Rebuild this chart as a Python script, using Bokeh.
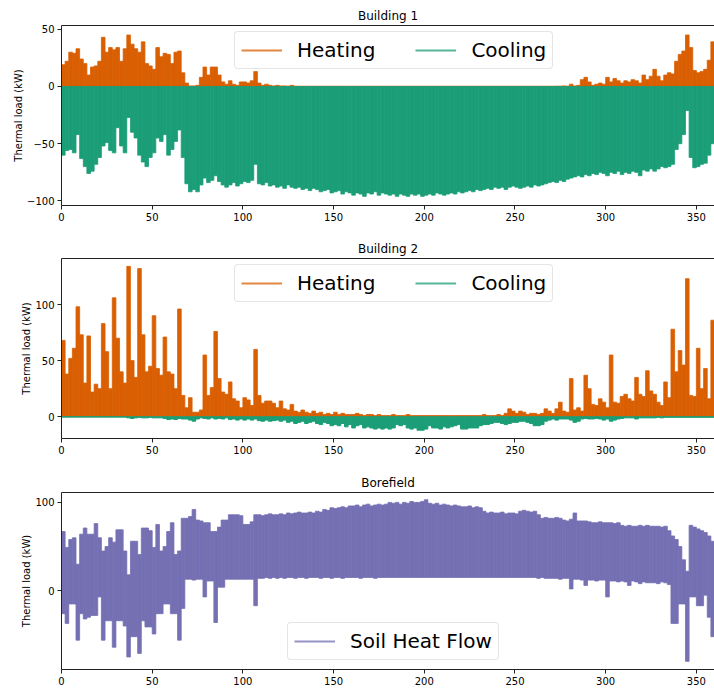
from bokeh.plotting import figure
from bokeh.models import Range1d, FixedTicker, Legend, LegendItem, LinearAxis
from bokeh.layouts import column
from bokeh.embed import file_html
from bokeh.resources import INLINE

# ---- data: 2-day envelopes (kW) ----
DAYS = list(range(0, 360, 2))

HEAT1 = [19, 22, 30, 29, 33, 24, 20, 10, 17, 18,
         22, 43, 30, 34, 32, 34, 22, 33, 45, 37,
         33, 30, 39, 20, 18, 15, 34, 26, 29, 28,
         20, 30, 31, 12, 3, 0.5, 0.5, 1, 8, 17,
         10, 17, 17, 10, 4, 2, 5, 2, 1, 4,
         4, 3, 5, 13, 3, 1, 2, 1, 0.5, 1,
         0.5, 0.5, 0.3, 1, 0.3, 0.2, 0.2, 0.2, 0.2, 0.2,
         0.2, 0.2, 0.2, 0.2, 0.2, 0.2, 0.2, 0.2, 0.2, 0.2,
         0.2, 0.2, 0.2, 0.2, 0.2, 0.2, 0.2, 0.2, 0.2, 0.2,
         0.2, 0.2, 0.2, 0.2, 0.2, 0.2, 0.2, 0.2, 0.2, 0.2,
         0.2, 0.2, 0.2, 0.2, 0.2, 0.2, 0.2, 0.2, 0.2, 0.2,
         0.2, 0.2, 0.2, 0.2, 0.2, 0.2, 0.2, 0.2, 0.2, 0.2,
         0.2, 0.2, 0.2, 0.2, 0.2, 0.2, 0.2, 0.2, 0.2, 0.2,
         0.2, 0.2, 0.2, 0.2, 0.2, 0.2, 0.3, 0.3, 0.5, 0.3,
         2, 0.5, 1, 6, 8, 4, 1, 2, 3, 2,
         8, 4, 7, 5, 3, 5, 4, 6, 5, 3,
         10, 6, 9, 15, 9, 5, 10, 12, 11, 22,
         28, 31, 45, 34, 14, 12, 13, 15, 23, 39]

COOL1 = [-60, -56, -55, -58, -42, -63, -70, -76, -74, -68,
         -62, -52, -49, -56, -58, -36, -52, -58, -27, -40,
         -45, -60, -66, -70, -62, -58, -45, -48, -42, -60,
         -55, -48, -38, -62, -85, -92, -90, -92, -86, -80,
         -84, -82, -78, -83, -86, -88, -86, -84, -87, -85,
         -83, -84, -82, -68, -85, -86, -84, -87, -86, -88,
         -87, -89, -86, -88, -89, -88, -90, -89, -91, -89,
         -90, -92, -91, -90, -93, -92, -91, -94, -92, -93,
         -95, -93, -94, -96, -93, -94, -92, -95, -93, -94,
         -95, -94, -96, -94, -95, -96, -94, -95, -94, -96,
         -95, -94, -95, -93, -94, -95, -94, -93, -94, -92,
         -93, -92, -91, -92, -90, -91, -90, -89, -90, -88,
         -89, -88, -90, -88, -87, -88, -89, -88, -87, -88,
         -86, -87, -86, -85, -84, -83, -84, -82, -83, -81,
         -80, -79, -78, -79, -77, -78, -76, -77, -75, -76,
         -78, -75, -76, -74, -77, -75, -76, -74, -75, -78,
         -73, -74, -72, -74, -72, -70, -71, -70, -68, -55,
         -50, -42, -21, -62, -71, -70, -68, -67, -60, -50]

HEAT2 = [68, 38, 52, 61, 98, 73, 30, 72, 22, 29,
         25, 83, 58, 25, 106, 70, 40, 30, 134, 50,
         35, 132, 73, 40, 45, 90, 43, 37, 71, 40,
         38, 25, 96, 19, 8, 17, 4, 4, 6, 55,
         19, 26, 76, 34, 22, 20, 31, 16, 14, 8,
         17, 15, 10, 60, 19, 12, 14, 14, 12, 8,
         14, 7, 6, 11, 5, 4, 6, 4, 3, 5,
         3, 4, 2, 3, 2, 4, 2, 3, 2, 2,
         2, 3, 2, 1, 2, 2, 1, 2, 1, 1,
         1, 2, 1, 1, 1, 2, 1, 1, 1, 1,
         1, 1, 1, 1, 1, 1, 1, 1, 1, 1,
         1, 1, 1, 1, 1, 1, 2, 1, 1, 1,
         2, 1, 3, 7, 5, 3, 5, 4, 2, 3,
         3, 2, 3, 7, 5, 3, 7, 13, 5, 4,
         34, 6, 8, 5, 37, 25, 11, 10, 16, 13,
         8, 55, 13, 12, 18, 20, 16, 14, 35, 20,
         18, 41, 23, 20, 13, 10, 31, 17, 78, 40,
         59, 46, 123, 19, 18, 61, 25, 43, 16, 86]

COOL2 = [-0.3, -0.3, -0.3, -0.3, -0.3, -0.3, -0.3, -0.3, -0.3, -0.3,
         -0.3, -0.3, -0.3, -0.3, -0.3, -0.3, -0.3, -0.3, -1, -1.5,
         -1, -0.5, -1, -1, -0.5, -1, -1, -1, -1.5, -2.5,
         -2, -2.5, -1.5, -2, -2, -3, -4, -2, -1, -1.5,
         -2, -1, -2, -1.5, -2, -1, -2.5, -2, -3, -2,
         -3, -2, -3, -2, -3.5, -4, -3, -4, -3.5, -3,
         -4, -3, -5, -4, -6, -5, -4, -6, -5, -4,
         -6, -7, -5, -6, -8, -7, -8, -6, -9, -7,
         -10, -8, -7, -10, -9, -10, -11, -10, -11, -10,
         -11, -10, -7, -8, -7, -10, -11, -10, -12, -12,
         -11, -8, -10, -10, -11, -9, -10, -9, -8, -7,
         -11, -11, -10, -10, -10, -8, -7, -7, -6, -5,
         -5, -6, -7, -6, -5, -5, -4, -4, -5, -6,
         -8, -8, -7, -4, -3, -2, -3, -2, -2, -2,
         -3, -5, -4, -2, -1.5, -2, -2, -1.5, -2, -3,
         -2, -4, -3, -2, -1.5, -1, -1, -1, -2, -1,
         -1, -1, -1, -1, -0.5, -1, -0.5, -0.5, -0.5, -0.5,
         -0.5, -0.5, -0.5, -0.5, -0.5, -0.5, -0.5, -0.5, -0.5, -0.5]

BF_MAX = [67, 49, 58, 60, 30, 64, 71, 64, 64, 76,
          60, 45, 50, 60, 55, 69, 69, 45, 18, 56,
          56, 41, 71, 71, 68, 49, 75, 45, 50, 67,
          77, 41, 45, 82, 82, 84, 92, 80, 79, 77,
          77, 67, 67, 72, 80, 80, 86, 86, 86, 85,
          75, 75, 78, 86, 86, 85, 86, 87, 86, 86,
          87, 86, 88, 87, 88, 89, 88, 88, 89, 88,
          90, 89, 92, 91, 94, 93, 94, 95, 94, 96,
          96, 97, 95, 97, 98, 96, 97, 98, 97, 98,
          100, 99, 100, 98, 100, 99, 101, 100, 100, 101,
          103, 99, 98, 99, 97, 98, 97, 96, 97, 96,
          95, 95, 96, 94, 95, 94, 90, 88, 89, 88,
          88, 89, 87, 88, 88, 87, 90, 91, 90, 89,
          90, 86, 82, 83, 82, 82, 83, 82, 80, 79,
          81, 88, 79, 79, 79, 78, 77, 77, 78, 77,
          77, 77, 76, 77, 74, 73, 74, 73, 73, 74,
          73, 74, 73, 73, 73, 72, 73, 68, 62, 58,
          50, 35, 22, 74, 72, 70, 68, 66, 62, 56]

BF_MIN = [-26, -37, -15, -15, -56, -26, -32, -30, -28, -28,
          -7, -56, -34, -34, -64, -34, -34, -40, -75, -52,
          -52, -71, -34, -41, -41, -49, -26, -26, -15, -15,
          -26, -26, -56, -20, 13, 13, 12, 13, 13, -7,
          11, 11, -36, 4, 4, 13, 13, 13, 13, 13,
          13, 13, 13, -17, 14, 14, 15, 14, 15, 14,
          15, 14, 15, 15, 14, 15, 15, 14, 15, 15,
          15, 14, 15, 15, 14, 15, 15, 14, 15, 15,
          15, 15, 14, 15, 15, 15, 14, 15, 15, 15,
          15, 15, 15, 15, 15, 15, 15, 15, 15, 15,
          15, 15, 15, 15, 15, 15, 15, 15, 15, 15,
          15, 15, 15, 15, 15, 15, 15, 15, 15, 15,
          15, 15, 15, 15, 15, 15, 15, 15, 15, 15,
          15, 14, 15, 14, 14, 14, 14, 13, 14, 14,
          2, 13, 13, 12, 6, 12, 12, 11, 12, 12,
          -7, 11, 11, 10, 11, 10, 6, 11, 10, 8,
          10, 9, 9, 9, 8, 10, 9, 7, -37, -37,
          -15, -15, -80, -7, -7, -17, -17, -5, -30, -52]

X_TICKS = [0, 50, 100, 150, 200, 250, 300, 350]
TITLES = ["Building 1", "Building 2", "Borefield"]
Y_RANGES = [(-104, 53.3), (-19.4, 141), (-89.2, 111.2)]
Y_TICKS = [[-100, -50, 0, 50], [0, 50, 100], [0, 100]]

ORANGE = "#d95f02"
GREEN = "#1b9e77"
PURPLE = "#7570b3"
FONT = "DejaVu Sans"
SPINE = "#222222"

LEFT = DAYS
RIGHT = [d + 2 for d in DAYS]
FRAME_W = 653
NAN = float("nan")


def make_fig(title, yr, yticks, frame_h, top_border, bottom_border):
    p = figure(frame_width=FRAME_W, frame_height=frame_h,
               x_range=Range1d(0, 360), y_range=Range1d(*yr),
               output_backend="svg", toolbar_location=None,
               min_border_left=61, min_border_right=0,
               min_border_top=top_border, min_border_bottom=bottom_border)
    xax = p.below[0]
    yax = p.left[0]
    p.title.text = title
    p.title.align = "center"
    p.title.text_font = FONT
    p.title.text_font_size = "12px"
    p.title.text_font_style = "normal"
    p.title.text_color = "#000000"
    p.title.standoff = 5
    p.xgrid.visible = False
    p.ygrid.visible = False
    p.outline_line_color = None
    for ax in (xax, yax):
        ax.major_tick_out = 4
        ax.major_tick_in = 0
        ax.minor_tick_out = 0
        ax.minor_tick_in = 0
        ax.major_label_standoff = 3
        ax.major_label_text_font = FONT
        ax.major_label_text_font_size = "10px"
        ax.major_label_text_color = "#000000"
        ax.axis_line_color = SPINE
        ax.major_tick_line_color = SPINE
    xax.ticker = FixedTicker(ticks=X_TICKS)
    yax.ticker = FixedTicker(ticks=yticks)
    yax.major_label_overrides = {t: ("\u2212" + str(abs(t)) if t < 0 else str(t)) for t in yticks}
    yax.axis_label = "Thermal load (kW)"
    yax.axis_label_text_font = FONT
    yax.axis_label_text_font_size = "10px"
    yax.axis_label_text_font_style = "normal"
    yax.axis_label_text_color = "#000000"
    yax.axis_label_standoff = 0
    # top spine only (the right one is cut off in the reference)
    top = LinearAxis(ticker=FixedTicker(ticks=[]), major_tick_out=0, major_tick_in=0,
                     minor_tick_out=0, minor_tick_in=0, major_label_standoff=0,
                     major_label_text_font_size="0px",
                     axis_line_color=SPINE, axis_line_width=1)
    p.add_layout(top, "above")
    return p


def style_legend(leg, loc):
    leg.location = loc
    leg.orientation = "horizontal"
    leg.label_text_font = FONT
    leg.label_text_font_size = "20px"
    leg.label_text_color = "#000000"
    leg.label_height = 20
    leg.glyph_width = 41
    leg.glyph_height = 20
    leg.label_standoff = 15
    leg.spacing = 40
    leg.padding = 6
    leg.margin = 0
    leg.border_line_color = "#cccccc"
    leg.border_line_width = 1
    leg.background_fill_alpha = 0.8
    try:
        leg.border_radius = 4
    except Exception:
        pass


def legend_line(p, color):
    return p.line(x=[NAN], y=[NAN], line_color=color, line_width=2, line_alpha=0.75)


# ---- Building 1 ----
H1 = 180
p1 = make_fig(TITLES[0], Y_RANGES[0], Y_TICKS[0], H1, 25, 22)
p1.quad(left=LEFT, right=RIGHT, bottom=0, top=HEAT1, fill_color=ORANGE, line_color=ORANGE, line_width=0.8)
p1.quad(left=LEFT, right=RIGHT, bottom=0, top=COOL1, fill_color=GREEN, line_color=GREEN, line_width=0.8)
h1 = legend_line(p1, ORANGE)
c1 = legend_line(p1, GREEN)
leg1 = Legend(items=[LegendItem(label="Heating", renderers=[h1]), LegendItem(label="Cooling", renderers=[c1])])
style_legend(leg1, (173, H1 - 44))
p1.add_layout(leg1)

# ---- Building 2 ----
H2 = 180
p2 = make_fig(TITLES[1], Y_RANGES[1], Y_TICKS[1], H2, 31, 23)
p2.quad(left=LEFT, right=RIGHT, bottom=0, top=HEAT2, fill_color=ORANGE, line_color=ORANGE, line_width=0.8)
p2.quad(left=LEFT, right=RIGHT, bottom=0, top=COOL2, fill_color=GREEN, line_color=GREEN, line_width=1)
h2 = legend_line(p2, ORANGE)
c2 = legend_line(p2, GREEN)
leg2 = Legend(items=[LegendItem(label="Heating", renderers=[h2]), LegendItem(label="Cooling", renderers=[c2])])
style_legend(leg2, (173, H2 - 44))
p2.add_layout(leg2)

# ---- Borefield ----
H3 = 177
p3 = make_fig(TITLES[2], Y_RANGES[2], Y_TICKS[2], H3, 31, 20)
p3.quad(left=LEFT, right=RIGHT, bottom=BF_MIN, top=BF_MAX, fill_color=PURPLE, line_color=PURPLE, line_width=0.8)
s3 = legend_line(p3, PURPLE)
leg3 = Legend(items=[LegendItem(label="Soil Heat Flow", renderers=[s3])])
style_legend(leg3, (226, 9))
p3.add_layout(leg3)

layout = column(p1, p2, p3, spacing=0)
open("out.html", "w").write(file_html(layout, INLINE))
